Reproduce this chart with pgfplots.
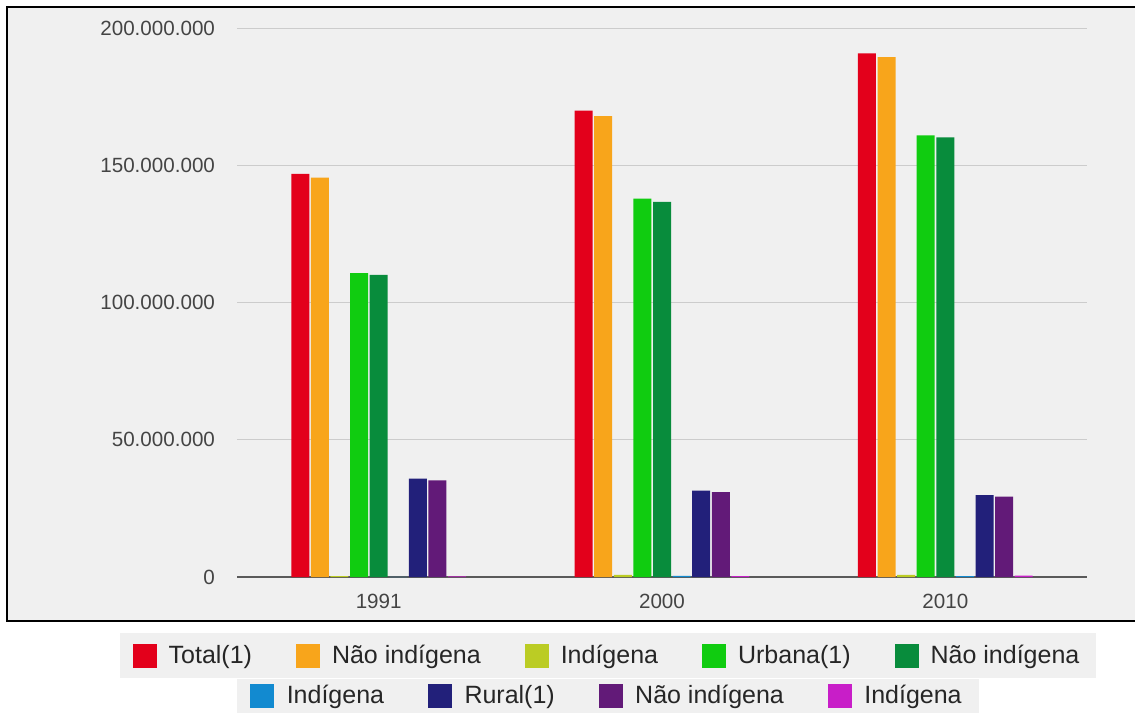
\documentclass[border=0pt]{standalone}
\usepackage{pgfplots}
\pgfplotsset{compat=1.18}
\usepackage{fontspec}
\setmainfont{Liberation Sans}

\definecolor{panel}{RGB}{240,240,240}
\definecolor{gridgray}{RGB}{204,204,204}
\definecolor{axisgray}{RGB}{90,90,90}
\definecolor{tickgray}{RGB}{68,68,68}
\definecolor{cTotal}{RGB}{227,0,27}
\definecolor{cNaoInd}{RGB}{248,165,27}
\definecolor{cInd}{RGB}{187,204,36}
\definecolor{cUrb}{RGB}{16,204,16}
\definecolor{cUrbNao}{RGB}{8,140,60}
\definecolor{cUrbInd}{RGB}{18,138,208}
\definecolor{cRur}{RGB}{34,32,122}
\definecolor{cRurNao}{RGB}{98,26,120}
\definecolor{cRurInd}{RGB}{200,30,200}

% square legend swatch
\pgfplotsset{sqleg/.style={legend image code/.code={%
  \fill[##1,draw=none] (0pt,-6pt) rectangle (12pt,6pt); \path (16pt,0pt);}}}

\begin{document}
\begin{tikzpicture}
\fill[white] (0,0) rectangle (567.5pt,-356.5pt);
\useasboundingbox (0,0) rectangle (567.5pt,-356.5pt);
\draw[fill=panel, line width=1pt] (3.5pt,-3.5pt) rectangle (580pt,-310.5pt);

\begin{axis}[
    at={(118.5pt,-288.5pt)}, anchor=south west,
    scale only axis, width=425pt, height=274.5pt,
    ybar=0.8pt, bar width=9pt,
    xmin=-0.5, xmax=2.5, ymin=0, ymax=200000000,
    xtick={0,1,2}, xticklabels={1991,2000,2010},
    ytick={0,50000000,100000000,150000000,200000000},
    yticklabels={0,50.000.000,100.000.000,150.000.000,200.000.000},
    scaled y ticks=false,
    axis x line*=bottom, axis y line*=left,
    x axis line style={draw=axisgray, line width=1pt},
    y axis line style={draw=none},
    major tick length=0pt, tick style={draw=none},
    ymajorgrids, grid style={draw=gridgray, line width=0.5pt},
    ticklabel style={font=\fontsize{10.3}{12}\selectfont, text=tickgray},
    yticklabel style={xshift=-7.5pt},
    xticklabel style={yshift=-5pt},
    legend style={at={(0.4365,-0.143)}, anchor=center, legend columns=5,
        draw=none, fill=panel, inner xsep=6.5pt, inner ysep=4pt,
        font=\fontsize{12.5}{14}\selectfont, text=black!85,
        /tikz/every even column/.append style={column sep=20pt}},
    legend cell align=left,
]
\addplot[fill=cTotal, draw=none, sqleg] coordinates {(0,146815790) (1,169872856) (2,190755799)};
\addplot[fill=cNaoInd, draw=none, sqleg] coordinates {(0,145500000) (1,167900000) (2,189400000)};
\addplot[fill=cInd, draw=none, sqleg] coordinates {(0,294131) (1,734127) (2,817963)};
\addplot[fill=cUrb, draw=none, sqleg] coordinates {(0,110700000) (1,137800000) (2,160900000)};
\addplot[fill=cUrbNao, draw=none, sqleg] coordinates {(0,110100000) (1,136700000) (2,160200000)};
\addplot[fill=cUrbInd, draw=none, sqleg] coordinates {(0,71026) (1,383298) (2,315180)};
\addplot[fill=cRur, draw=none, sqleg] coordinates {(0,35800000) (1,31500000) (2,29800000)};
\addplot[fill=cRurNao, draw=none, sqleg] coordinates {(0,35200000) (1,30900000) (2,29300000)};
\addplot[fill=cRurInd, draw=none, sqleg] coordinates {(0,223105) (1,350829) (2,502783)};
\legend{Total(1),Não indígena,Indígena,Urbana(1),Não indígena}
\end{axis}

\begin{axis}[
    at={(118.5pt,-288.5pt)}, anchor=south west,
    scale only axis, width=425pt, height=274.5pt,
    hide axis, xmin=0, xmax=1, ymin=0, ymax=1,
    legend style={at={(0.4365,-0.2168)}, anchor=center, legend columns=4,
        draw=none, fill=panel, inner xsep=6.5pt, inner ysep=1pt,
        font=\fontsize{12.5}{14}\selectfont, text=black!85,
        /tikz/every even column/.append style={column sep=20pt}},
    legend cell align=left,
]
\addlegendimage{fill=cUrbInd, sqleg}
\addlegendentry{Indígena}
\addlegendimage{fill=cRur, sqleg}
\addlegendentry{Rural(1)}
\addlegendimage{fill=cRurNao, sqleg}
\addlegendentry{Não indígena}
\addlegendimage{fill=cRurInd, sqleg}
\addlegendentry{Indígena}
\end{axis}
\end{tikzpicture}
\end{document}
